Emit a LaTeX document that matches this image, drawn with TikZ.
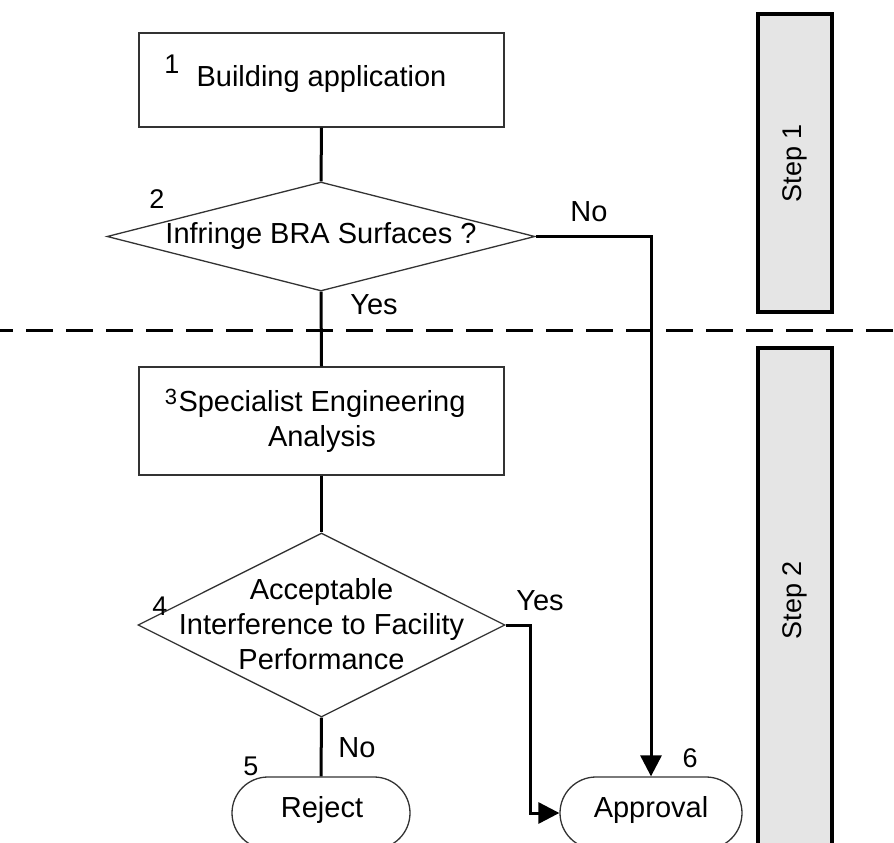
\documentclass[tikz,border=0pt]{standalone}
\usepackage{fontspec}
\setmainfont{Liberation Sans}
\usetikzlibrary{shapes.geometric,shapes.misc,arrows.meta}
\begin{document}
\begin{tikzpicture}[x=1pt,y=-1pt,
  font=\fontsize{29}{35}\selectfont,
  procbox/.style={draw=black!80,line width=1.3pt,rectangle,inner sep=0pt},
  decbox/.style={draw=black!80,line width=1.3pt,diamond,inner sep=0pt},
  termbox/.style={draw=black!80,line width=1.3pt,rounded rectangle,inner sep=0pt,minimum height=72pt},
  stepbox/.style={draw=black,line width=3.5pt,fill=black!10,rectangle,inner sep=0pt,minimum width=74pt},
  conn/.style={line width=3pt,black},
  arr/.style={conn,-{Triangle[length=21pt,width=21pt]}},
  txt/.style={inner sep=0pt,align=center},
  lbl/.style={inner sep=0pt,font=\fontsize{27}{30}\selectfont},
  smalllbl/.style={inner sep=0pt,font=\fontsize{22}{24}\selectfont}]
\useasboundingbox (0,0) rectangle (894,843);
\fill[white] (0,0) rectangle (894,843);
% step boxes
\node[stepbox,minimum height=298pt] (s1) at (795,163) {};
\node[txt,rotate=90,font=\fontsize{27}{32}\selectfont] (s1t) at (s1.center) {Step 1};
\node[stepbox,minimum height=512pt] (s2) at (795,604) {};
\node[txt,rotate=90,font=\fontsize{27}{32}\selectfont] (s2t) at (795,600) {Step 2};
% dashed separator
\coordinate (dl) at (0,330);
\coordinate (dr) at (894,330);
\draw[line width=3pt,dash pattern=on 27pt off 13pt,dash phase=14pt] (dl) -- (dr);
% nodes
\node[procbox,minimum width=365pt,minimum height=94pt] (b1) at (321.5,80) {};
\node[txt] (b1t) at (321.5,79) {Building application};
\node[decbox,minimum width=428pt,minimum height=109pt,aspect=3.93] (d2) at (321,236.5) {};
\node[txt] (d2t) at (d2.center) {Infringe BRA Surfaces ?};
\node[procbox,minimum width=365pt,minimum height=108pt] (b3) at (321.5,421) {};
\node[txt] (b3t) at (322,421) {Specialist Engineering\\Analysis};
\node[decbox,minimum width=367pt,minimum height=184pt,aspect=2] (d4) at (321.5,625) {};
\node[txt] (d4t) at (321.5,624) {Acceptable\\Interference to Facility\\Performance};
\node[termbox,minimum width=178pt] (rej) at (321,813) {};
\node[txt] (rejt) at (322,810) {Reject};
\node[termbox,minimum width=182pt] (ap) at (651,813) {};
\node[txt] (apt) at (651,810) {Approval};
% numbers
\node[lbl] (n1) at (172,64) {1};
\node[lbl] (n2) at (157,199) {2};
\node[smalllbl] (n3) at (171,397) {3};
\node[lbl] (n4) at (160,606) {4};
\node[lbl] (n5) at (251,766) {5};
\node[lbl] (n6) at (690,758) {6};
% connectors
\draw[conn] (b1.south) -- (d2.north);
\draw[conn] (d2.south) -- (b3.north);
\draw[conn] (b3.south) -- (d4.north);
\draw[conn] (d4.south) -- (rej.north);
\draw[arr] (d2.east) -| (ap.north);
\coordinate (yb) at (530,625);
\draw[arr] (d4.east) -- (yb) |- (ap.west);
% connector labels
\node[txt] (ly1) at (374,305) {Yes};
\node[txt] (ln1) at (589,212) {No};
\node[txt] (ly2) at (540,601) {Yes};
\node[txt] (ln2) at (357,748) {No};
\end{tikzpicture}
\end{document}
